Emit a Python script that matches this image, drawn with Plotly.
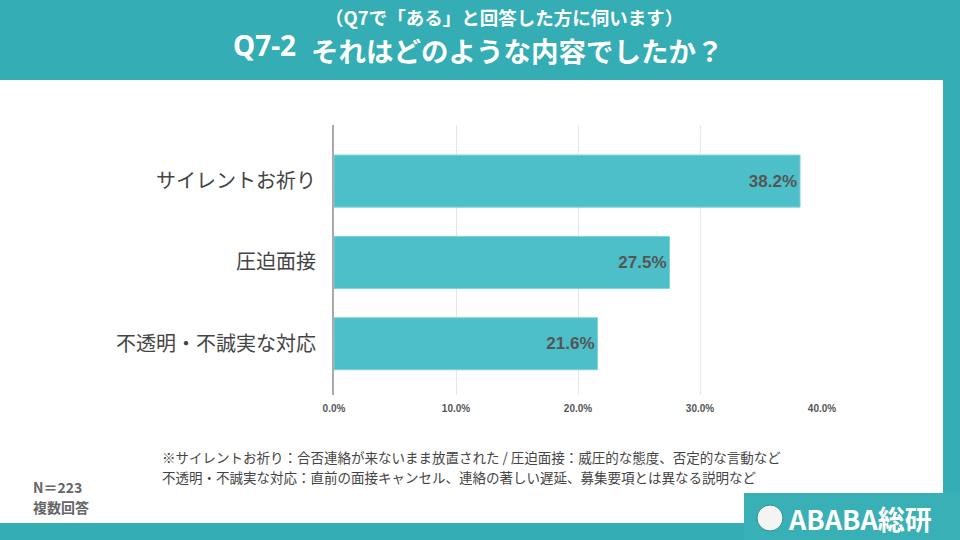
import plotly.graph_objects as go

categories = ["サイレントお祈り", "圧迫面接", "不透明・不誠実な対応"]
values = [38.2, 27.5, 21.6]
x_ticks = [0, 10, 20, 30, 40]
x_tick_labels = ["0.0%", "10.0%", "20.0%", "30.0%", "40.0%"]

TEAL = "#34adb4"
BAR = "#4dbfc9"
JP = "Noto Sans CJK JP"

fig = go.Figure()
fig.add_trace(go.Bar(
    x=values, y=categories, orientation="h",
    marker=dict(color=BAR, line=dict(color="#7fd3da", width=1)),
    text=[f"{v:.1f}%" for v in values],
    textposition="inside", insidetextanchor="end",
    textfont=dict(family="Liberation Sans, Arial", size=17, color="#555555", weight="bold"),
    cliponaxis=False,
    hoverinfo="skip",
))

fig.update_layout(
    width=960, height=540,
    paper_bgcolor=TEAL, plot_bgcolor="rgba(0,0,0,0)",
    margin=dict(l=334, r=138, t=125, b=145),
    bargap=0.36,
    showlegend=False,
    font=dict(family=JP),
    uniformtext=dict(minsize=8, mode="show"),
    xaxis=dict(range=[0, 40], tickvals=x_ticks, ticktext=x_tick_labels,
               showgrid=True, gridcolor="#e6e6e6", gridwidth=1,
               zeroline=False, showline=False, ticks="",
               tickfont=dict(family="Liberation Sans, Arial", size=10, color="#555555", weight="bold"),
               ticklabelstandoff=6),
    yaxis=dict(type="category", categoryorder="array", categoryarray=categories,
               range=[2.63, -0.69], showgrid=False, zeroline=False,
               showline=True, linecolor="#aaaaaa", linewidth=2, ticks="",
               tickfont=dict(family=JP, size=20, color="#444444"),
               ticklabelstandoff=12),
)

# white panel
fig.add_shape(type="rect", xref="paper", yref="paper", layer="below",
              x0=-334/488, x1=(943-334)/488, y0=(540-523-145)/270, y1=(540-80-145)/270,
              fillcolor="white", line=dict(width=0))
# logo box
fig.add_shape(type="rect", xref="paper", yref="paper", layer="above",
              x0=(744-334)/488, x1=(960-334)/488, y0=-145/270, y1=(540-493-145)/270,
              fillcolor="#39b0b6", line=dict(width=0))

def px_x(x):
    return (x - 334) / 488

def px_y(y):
    return (540 - y - 145) / 270

annotations = [
    dict(text="Q7-2", x=px_x(231), y=px_y(45), xanchor="left", yanchor="middle",
         font=dict(family="Noto Sans", size=28, color="white", weight="bold")),
    dict(text="（Q7で「ある」と回答した方に伺います）", x=px_x(504), y=px_y(17),
         xanchor="center", yanchor="middle",
         font=dict(family=JP, size=18.5, color="white", weight="bold")),
    dict(text="それはどのような内容でしたか？", x=px_x(517), y=px_y(50),
         xanchor="center", yanchor="middle",
         font=dict(family=JP, size=27.5, color="white", weight="bold")),
    dict(text="※サイレントお祈り：合否連絡が来ないまま放置された / 圧迫面接：威圧的な態度、否定的な言動など",
         x=px_x(160), y=px_y(457), xanchor="left", yanchor="middle",
         font=dict(family=JP, size=13.5, color="#444444")),
    dict(text="不透明・不誠実な対応：直前の面接キャンセル、連絡の著しい遅延、募集要項とは異なる説明など",
         x=px_x(160), y=px_y(477), xanchor="left", yanchor="middle",
         font=dict(family=JP, size=13.5, color="#444444")),
    dict(text="N＝223", x=px_x(31), y=px_y(487), xanchor="left", yanchor="middle",
         font=dict(family=JP, size=14, color="#666666", weight="bold")),
    dict(text="複数回答", x=px_x(31), y=px_y(507), xanchor="left", yanchor="middle",
         font=dict(family=JP, size=14, color="#666666", weight="bold")),
    dict(text="ABABA総研", x=px_x(786), y=px_y(518), xanchor="left", yanchor="middle",
         font=dict(family=JP, size=27, color="white", weight="bold")),
]
for a in annotations:
    a.update(xref="paper", yref="paper", showarrow=False)
fig.update_layout(annotations=annotations)

# simple logo mark
fig.add_shape(type="circle", xref="paper", yref="paper", layer="above",
              x0=px_x(757), x1=px_x(783), y0=px_y(531), y1=px_y(505),
              fillcolor="#f4f4f4", line=dict(color="#2a8f95", width=1))

fig.write_html("out.html")
